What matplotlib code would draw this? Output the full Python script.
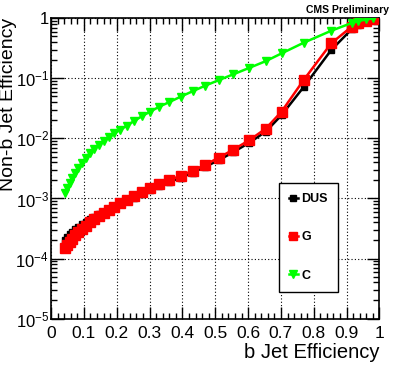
import math
import matplotlib
matplotlib.use("Agg")
import matplotlib.pyplot as plt
from matplotlib.ticker import FixedLocator, FuncFormatter, LogLocator, MultipleLocator, NullFormatter

plt.rcParams['font.family'] = ['Liberation Sans', 'DejaVu Sans']
plt.rcParams['mathtext.fontset'] = 'custom'
plt.rcParams['mathtext.rm'] = 'Liberation Sans'
plt.rcParams['mathtext.it'] = 'Liberation Sans'

# shared b-jet efficiency (x)
b_eff = [0.042, 0.050, 0.057, 0.065, 0.074, 0.083, 0.094, 0.106, 0.118, 0.132,
         0.146, 0.161, 0.176, 0.193, 0.211, 0.231, 0.252, 0.277, 0.302, 0.330,
         0.360, 0.395, 0.432, 0.470, 0.511, 0.555, 0.604, 0.654, 0.702, 0.769,
         0.853, 0.915, 0.936, 0.960, 0.979]

dus_eff = [2.06e-4, 2.31e-4, 2.54e-4, 2.80e-4, 3.08e-4, 3.39e-4, 3.73e-4, 4.11e-4, 4.52e-4, 4.97e-4,
           5.48e-4, 6.03e-4, 6.64e-4, 7.30e-4, 8.19e-4, 9.19e-4, 1.03e-3, 1.18e-3, 1.38e-3, 1.60e-3,
           1.87e-3, 2.22e-3, 2.69e-3, 3.39e-3, 4.35e-3, 5.91e-3, 8.51e-3, 1.30e-2, 2.45e-2, 7.16e-2,
           0.296, 0.656, 0.773, 0.885, 0.973]

g_eff = [1.49e-4, 1.67e-4, 1.87e-4, 2.14e-4, 2.45e-4, 2.74e-4, 3.08e-4, 3.52e-4, 4.03e-4, 4.52e-4,
         5.07e-4, 5.69e-4, 6.38e-4, 7.30e-4, 8.35e-4, 9.55e-4, 1.09e-3, 1.27e-3, 1.48e-3, 1.73e-3,
         2.02e-3, 2.40e-3, 2.91e-3, 3.66e-3, 4.79e-3, 6.51e-3, 9.37e-3, 1.46e-2, 2.80e-2, 9.37e-2,
         0.383, 0.724, 0.826, 0.919, 0.99]

c_eff = [1.22e-3, 1.48e-3, 1.80e-3, 2.18e-3, 2.70e-3, 3.25e-3, 3.95e-3, 4.80e-3, 5.70e-3, 6.75e-3,
         7.90e-3, 9.20e-3, 1.06e-2, 1.22e-2, 1.40e-2, 1.63e-2, 1.94e-2, 2.35e-2, 2.80e-2, 3.39e-2,
         4.03e-2, 4.97e-2, 6.14e-2, 7.59e-2, 9.37e-2, 0.117, 0.150, 0.194, 0.261, 0.392,
         0.621, 0.835, 0.90, 0.96, 1.0]

series_labels = ['DUS', 'G', 'C']
x_ticks = [0, 0.1, 0.2, 0.3, 0.4, 0.5, 0.6, 0.7, 0.8, 0.9, 1.0]
y_ticks = [1e-5, 1e-4, 1e-3, 1e-2, 1e-1, 1]

fig = plt.figure(figsize=(3.99, 3.67), dpi=100)
ax = fig.add_axes([0.128, 0.132, 0.823, 0.818])

ax.plot(b_eff, dus_eff, color='black', lw=1.8, marker='s', ms=5, label=series_labels[0], zorder=3)
ax.plot(b_eff, g_eff, color='#ff0000', lw=1.8, marker='s', ms=6.5, label=series_labels[1], zorder=4)
ax.plot(b_eff, c_eff, color='#00ff00', lw=1.8, marker='v', ms=6, label=series_labels[2], zorder=5)

ax.set_yscale('log')
ax.set_xlim(0, 1)
ax.set_ylim(1e-5, 1)

ax.xaxis.set_major_locator(FixedLocator(x_ticks))
ax.xaxis.set_minor_locator(MultipleLocator(0.02))
ax.xaxis.set_major_formatter(FuncFormatter(lambda v, p: '%g' % v))
ax.yaxis.set_major_locator(FixedLocator(y_ticks))
ax.yaxis.set_minor_locator(LogLocator(base=10, subs=range(2, 10), numticks=20))
ax.yaxis.set_minor_formatter(NullFormatter())

def yfmt(v, p):
    if abs(v - 1) < 1e-9:
        return '1'
    e = int(round(math.log10(v)))
    return r'$10^{%d}$' % e
ax.yaxis.set_major_formatter(FuncFormatter(yfmt))

ax.tick_params(which='both', direction='in', top=True, right=True, width=1, colors='black')
ax.tick_params(axis='x', which='major', labelsize=12.5, pad=5.5)
ax.tick_params(axis='y', which='major', labelsize=12, pad=1.5)
ax.tick_params(which='major', length=9)
ax.tick_params(which='minor', length=4.5)
for s in ax.spines.values():
    s.set_linewidth(1.2)

ax.grid(True, which='major', color='black', linestyle=(0, (1, 2)), linewidth=0.8)

ax.set_xlabel('b Jet Efficiency', fontsize=14.5, loc='right', labelpad=1)
ax.set_ylabel('Non-b Jet Efficiency', fontsize=14, loc='top')
ax.yaxis.set_label_coords(-0.103, 1.0)

fig.text(0.975, 0.972, 'CMS Preliminary', ha='right', va='center', fontsize=7.5, fontweight='bold')

leg = ax.legend(loc='upper left', bbox_to_anchor=(0.694, 0.4515), borderaxespad=0,
                frameon=True, fancybox=False, edgecolor='black', framealpha=1,
                handlelength=0.7, handletextpad=0.3, labelspacing=2.1, borderpad=0.8,
                prop={'weight': 'bold', 'size': 9}, markerscale=0.9)
leg.get_frame().set_linewidth(1.0)

fig.savefig('out.png', dpi=100)
